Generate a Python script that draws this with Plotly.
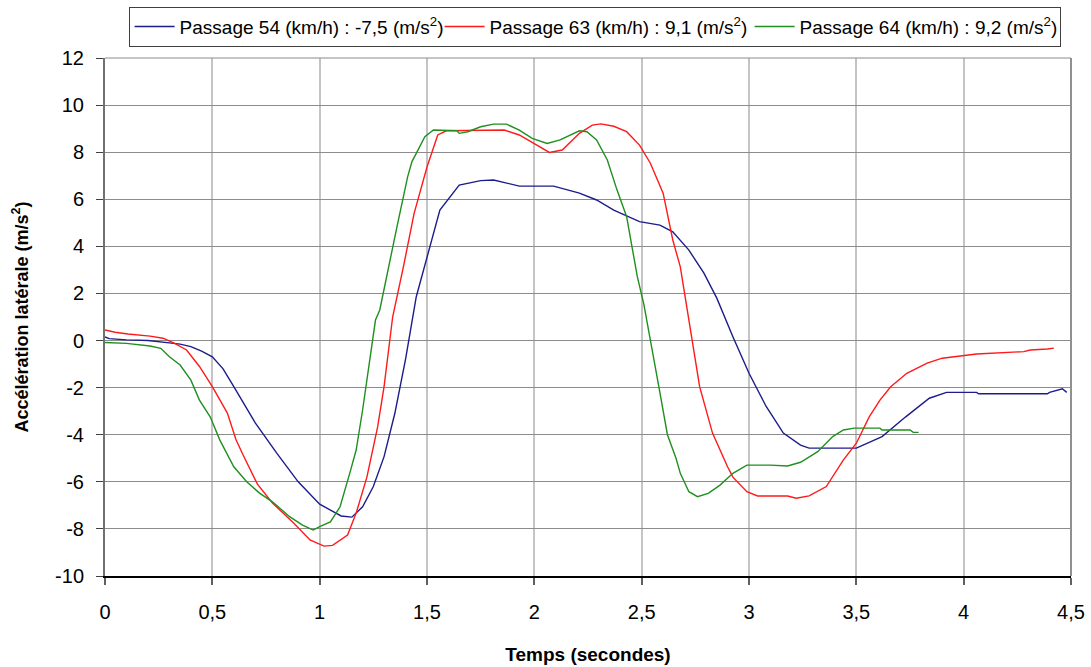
import plotly.graph_objects as go

# ---- data ----
t54 = [0, 0.02, 0.1, 0.2, 0.3, 0.35, 0.4, 0.45, 0.5, 0.55, 0.6, 0.65, 0.7, 0.8, 0.9, 1.0, 1.05,
       1.1, 1.15, 1.2, 1.25, 1.3, 1.35, 1.4, 1.45, 1.5, 1.56, 1.65, 1.75, 1.81, 1.93, 2.09, 2.21,
       2.29, 2.37, 2.49, 2.585, 2.645, 2.72, 2.79, 2.85, 2.925, 3.0, 3.08, 3.16, 3.24, 3.28, 3.5,
       3.62, 3.73, 3.84, 3.92, 4.06, 4.07, 4.39, 4.4, 4.46, 4.48]
v54 = [0.15, 0.08, 0.03, 0.0, -0.1, -0.15, -0.26, -0.45, -0.69, -1.2, -1.96, -2.7, -3.5, -4.78,
       -6.0, -6.95, -7.2, -7.45, -7.5, -7.06, -6.2, -4.93, -3.1, -0.8, 1.86, 3.56, 5.54, 6.6, 6.79,
       6.82, 6.56, 6.56, 6.26, 5.97, 5.54, 5.05, 4.9, 4.62, 3.84, 2.86, 1.8, 0.16, -1.39, -2.8,
       -3.93, -4.44, -4.57, -4.57, -4.08, -3.24, -2.45, -2.2, -2.2, -2.26, -2.26, -2.2, -2.05, -2.2]

t63 = [0, 0.047, 0.107, 0.21, 0.27, 0.32, 0.38, 0.44, 0.5, 0.57, 0.61, 0.64, 0.71, 0.78, 0.88,
       0.955, 1.02, 1.06, 1.13, 1.17, 1.22, 1.27, 1.3, 1.34, 1.39, 1.44, 1.5, 1.55, 1.59, 1.79,
       1.86, 1.93, 2.01, 2.07, 2.13, 2.21, 2.27, 2.31, 2.37, 2.43, 2.49, 2.54, 2.6, 2.645, 2.68,
       2.72, 2.77, 2.83, 2.865, 2.9, 2.925, 2.99, 3.04, 3.18, 3.22, 3.28, 3.36, 3.44, 3.5, 3.56,
       3.61, 3.66, 3.735, 3.83, 3.9, 4.06, 4.28, 4.31, 4.39, 4.42]
v63 = [0.45, 0.35, 0.28, 0.19, 0.1, -0.1, -0.4, -1.1, -1.96, -3.08, -4.2, -4.8, -6.1, -6.9, -7.76,
       -8.47, -8.73, -8.7, -8.26, -7.33, -5.8, -3.67, -1.96, 1.0, 3.13, 5.4, 7.37, 8.73, 8.91, 8.94,
       8.94, 8.73, 8.3, 7.99, 8.09, 8.8, 9.15, 9.2, 9.1, 8.87, 8.3, 7.54, 6.26, 4.27, 3.13, 0.87,
       -1.96, -3.93, -4.65, -5.36, -5.8, -6.42, -6.6, -6.6, -6.7, -6.6, -6.2, -5.07, -4.36, -3.24,
       -2.53, -1.96, -1.39, -0.96, -0.75, -0.57, -0.47, -0.4, -0.36, -0.32]

t64 = [0, 0.1, 0.21, 0.26, 0.3, 0.35, 0.4, 0.44, 0.49, 0.535, 0.6, 0.66, 0.72, 0.78, 0.86, 0.92,
       0.97, 1.0, 1.05, 1.095, 1.14, 1.17, 1.2, 1.235, 1.26, 1.28, 1.31, 1.36, 1.41, 1.43, 1.45,
       1.49, 1.53, 1.64, 1.65, 1.69, 1.75, 1.81, 1.87, 1.93, 1.99, 2.06, 2.12, 2.18, 2.21, 2.245,
       2.29, 2.34, 2.385, 2.43, 2.48, 2.51, 2.54, 2.58, 2.62, 2.66, 2.68, 2.72, 2.76, 2.81, 2.865,
       2.925, 2.99, 3.1, 3.18, 3.24, 3.32, 3.39, 3.44, 3.49, 3.61, 3.62, 3.75, 3.765, 3.79]
v64 = [-0.08, -0.12, -0.23, -0.33, -0.69, -1.04, -1.68, -2.53, -3.24, -4.23, -5.36, -6.0, -6.48,
       -6.85, -7.48, -7.84, -8.05, -7.9, -7.7, -7.06, -5.64, -4.65, -2.95, -0.83, 0.87, 1.3, 2.57,
       4.83, 6.96, 7.6, 7.95, 8.66, 8.94, 8.91, 8.8, 8.87, 9.08, 9.19, 9.19, 8.94, 8.59, 8.37, 8.52,
       8.8, 8.91, 8.87, 8.52, 7.67, 6.4, 5.26, 2.7, 1.55, 0.1, -1.96, -4.0, -5.0, -5.64, -6.42,
       -6.63, -6.49, -6.14, -5.64, -5.29, -5.29, -5.33, -5.17, -4.72, -4.08, -3.8, -3.72, -3.72,
       -3.8, -3.8, -3.9, -3.9]

names = ["Passage 54 (km/h) : -7,5 (m/s<sup>2</sup>)",
         "Passage 63 (km/h) : 9,1 (m/s<sup>2</sup>)",
         "Passage 64 (km/h) : 9,2 (m/s<sup>2</sup>)"]
colors = ["#1c1c8c", "#ff1a1a", "#1f8f1f"]

x_tickvals = [0, 0.5, 1, 1.5, 2, 2.5, 3, 3.5, 4, 4.5]
x_ticktext = ["0", "0,5", "1", "1,5", "2", "2,5", "3", "3,5", "4", "4,5"]
y_tickvals = [12, 10, 8, 6, 4, 2, 0, -2, -4, -6, -8, -10]
y_ticktext = ["12", "10", "8", "6", "4", "2", "0", "-2", "-4", "-6", "-8", "-10"]

FONT = "Liberation Sans, Arial, sans-serif"

fig = go.Figure()
for tt, vv, nm, c in zip([t54, t63, t64], [v54, v63, v64], names, colors):
    fig.add_trace(go.Scatter(x=tt, y=vv, mode="lines", name=nm,
                             line=dict(color=c, width=1.4)))

fig.update_layout(
    width=1091, height=667,
    margin=dict(l=105, r=20, t=58, b=91, autoexpand=False),
    paper_bgcolor="white", plot_bgcolor="white",
    font=dict(family=FONT, color="black"),
    showlegend=True,
    legend=dict(orientation="h", x=0.545, xanchor="center", xref="container",
                y=0.99, yanchor="top", yref="container",
                bordercolor="#404040", borderwidth=1, bgcolor="white",
                font=dict(size=19, family=FONT), itemwidth=40,
                entrywidth=255, tracegroupgap=0),
    xaxis=dict(range=[0, 4.5], tickvals=x_tickvals, ticktext=x_ticktext,
               showgrid=True, gridcolor="#c4c4c4", gridwidth=2,
               showline=True, linecolor="black", linewidth=1.5,
               ticks="outside", ticklen=7, tickcolor="#606060", tickwidth=1.5,
               tickfont=dict(size=20), ticklabelstandoff=10,
               zeroline=False,
               title=dict(text="<b>Temps (secondes)</b>", font=dict(size=19), standoff=26)),
    yaxis=dict(range=[-10, 12], tickvals=y_tickvals, ticktext=y_ticktext,
               showgrid=True, gridcolor="#8c8c8c", gridwidth=1,
               showline=True, linecolor="#707070", linewidth=2,
               ticks="outside", ticklen=7, tickcolor="#404040", tickwidth=1,
               tickfont=dict(size=20), ticklabelstandoff=8,
               zeroline=False,
               title=dict(text="<b>Accélération latérale (m/s<sup>2</sup>)</b>",
                          font=dict(size=18), standoff=22)),
    shapes=[
        dict(type="line", xref="paper", yref="paper", x0=1, x1=1, y0=0, y1=1,
             line=dict(color="#909090", width=2)),
        dict(type="line", xref="paper", yref="paper", x0=0, x1=1, y0=1, y1=1,
             line=dict(color="#8c8c8c", width=1)),
    ],
)

fig.write_html("out.html", config={"displayModeBar": False},
               post_script="document.body.style.margin='0';")
